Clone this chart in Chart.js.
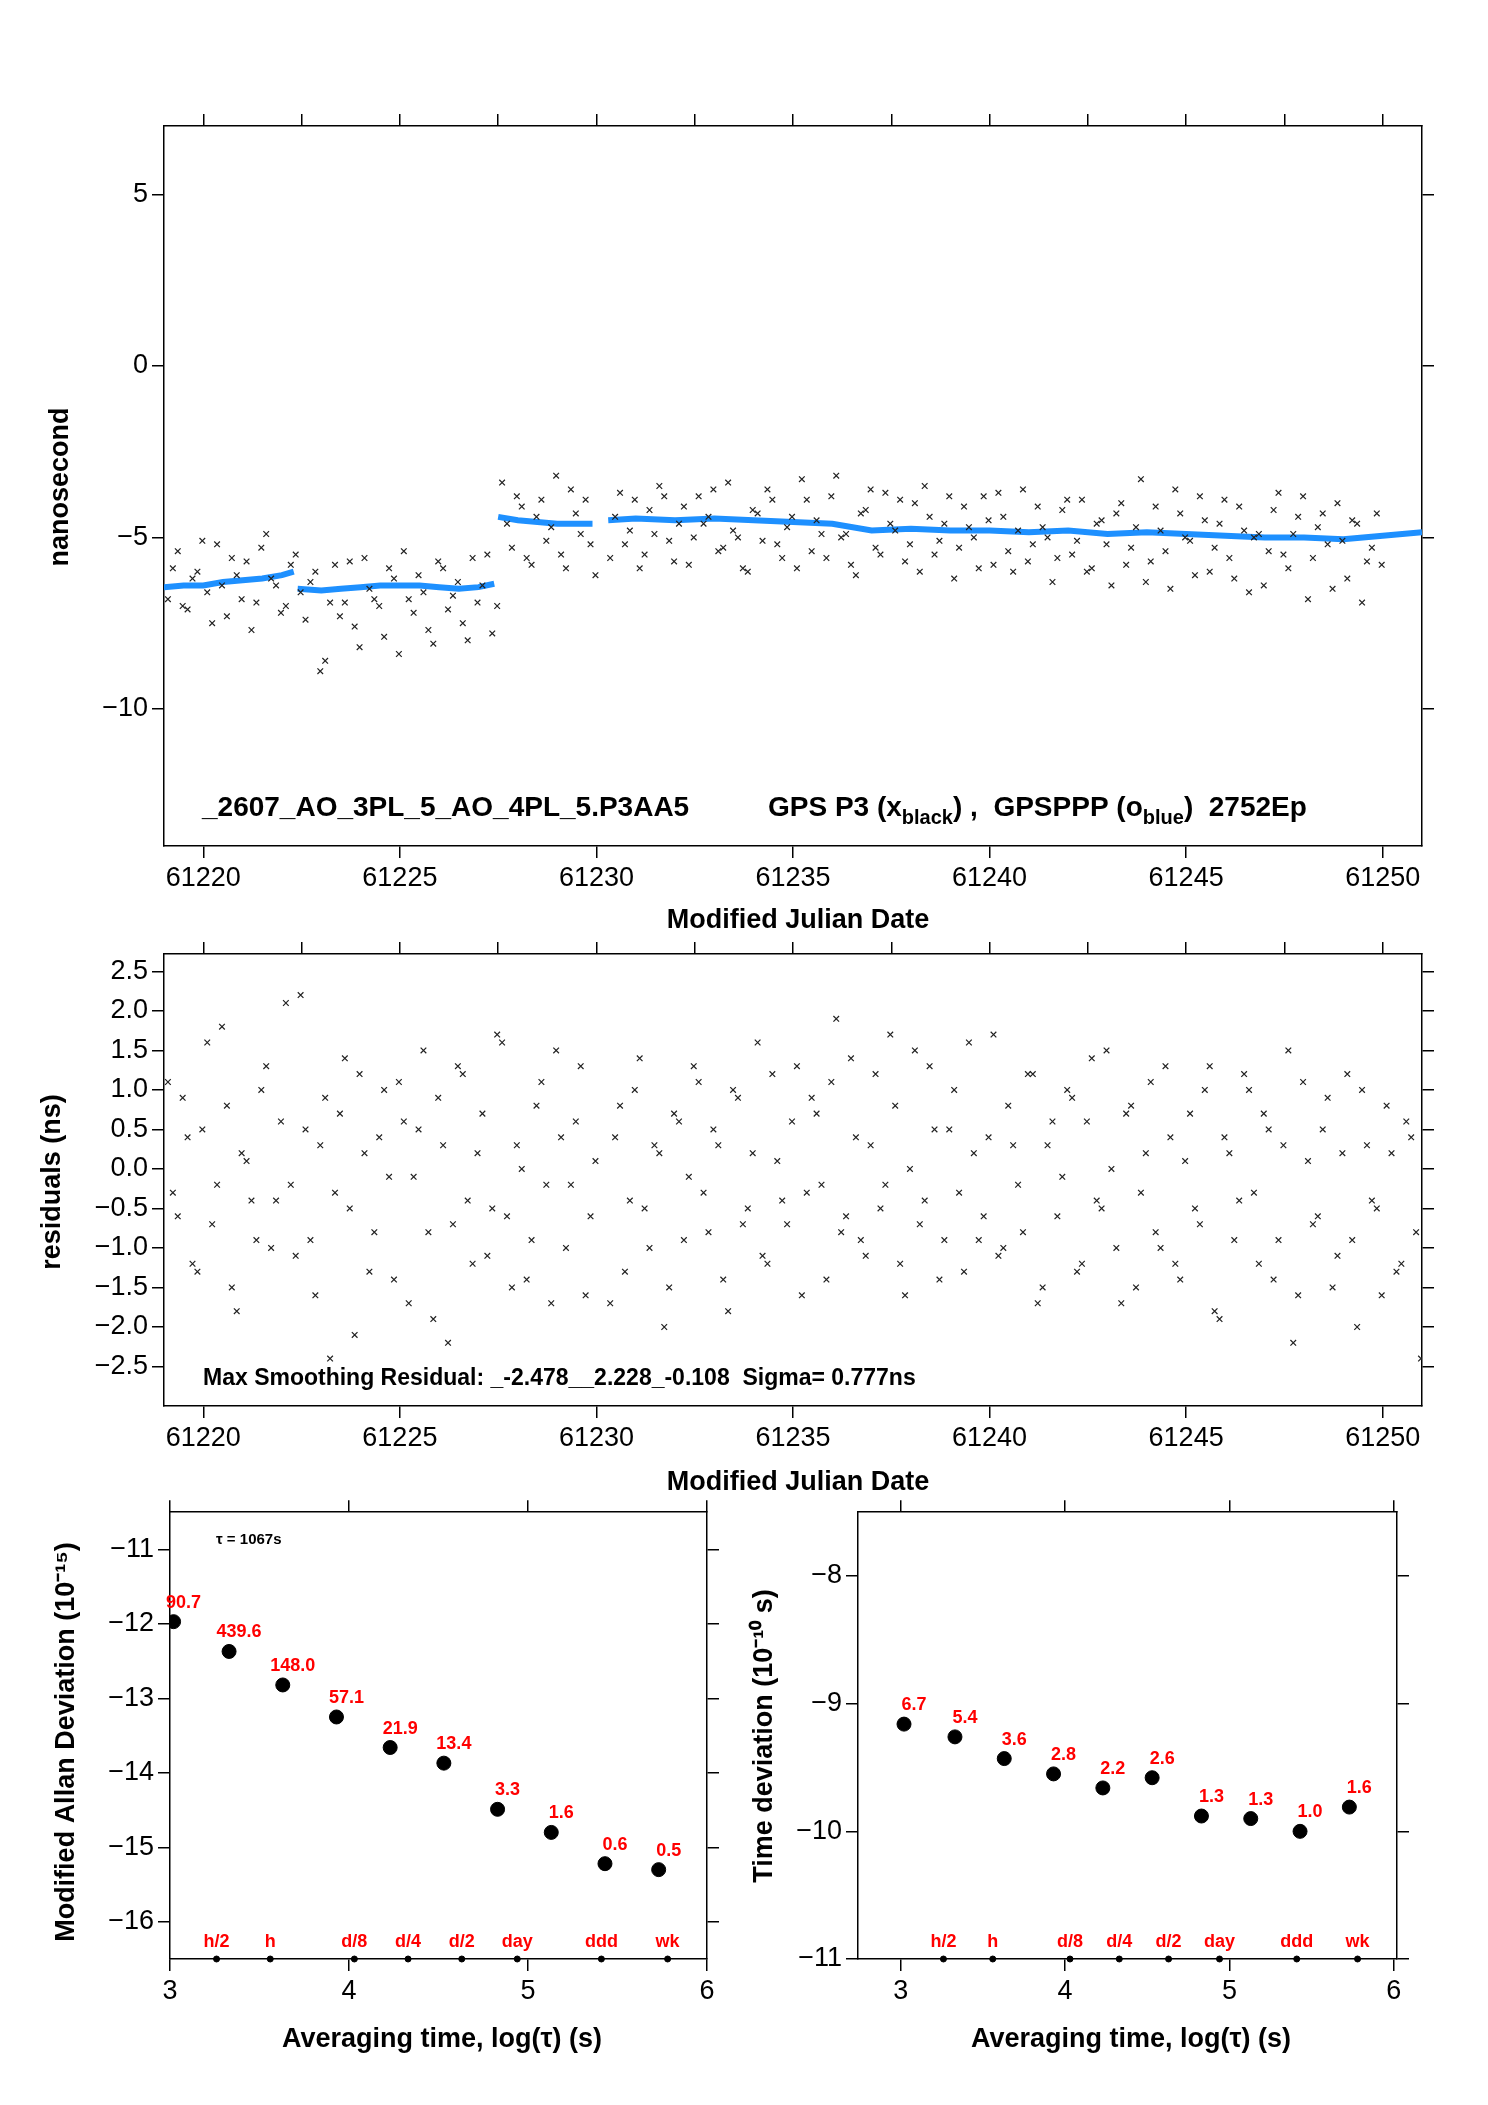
<!DOCTYPE html>
<html>
<head>
<meta charset="utf-8">
<script src="https://cdn.jsdelivr.net/npm/chart.js@4"></script>
<style>
body{margin:0;background:#fff;width:1488px;height:2105px;position:relative;overflow:hidden}
canvas{position:absolute}
</style>
</head>
<body>
<canvas id="top" style="left:0;top:0"></canvas>
<canvas id="res" style="left:0;top:930px"></canvas>
<canvas id="adev" style="left:0;top:1492px"></canvas>
<canvas id="tdev" style="left:740px;top:1492px"></canvas>
<script>
// ---- data ----
const scatStart = 61219.1, scatStep = 0.25;
const p3Vals = [-6.8,-5.4,-7.1,-6.0,-6.6,-5.2,-7.3,-6.1,-5.7,-6.9,-4.9,-6.4,-7.0,-5.5,
  -7.4,-6.0,-8.6,-5.8,-6.9,-7.6,-5.6,-6.8,-7.9,-6.2,-5.4,-7.2,-6.6,-8.1,-5.9,-6.7,-7.5,-5.6,-6.4,-7.8,
  -3.4,-5.3,-4.1,-5.8,-3.9,-4.7,-5.5,-3.6,-4.9,-5.2, null,
  -5.6,-3.7,-4.8,-5.9,-4.2,-3.5,-5.1,-4.6,-5.8,-3.8,-4.4,-5.4,-3.4,-5.0,-6.0,-4.3,-3.6,-5.2,-4.7,-5.9,
  -3.9,-4.5,-5.6,-3.2,-4.9,-6.1,-4.2,-5.3,-3.7,-4.8,-5.7,-4.0,-3.5,-5.5,-4.6,-6.2,-4.1,-5.0,-3.8,-5.8,
  -4.4,-6.0,-3.6,-5.2,-4.7,-6.3,-4.2,-5.5,-3.9,-5.9,-4.5,-6.4,-4.0,-5.3,-3.3,-5.7,-4.8,-6.5,-4.3,-5.1,
  -3.8,-6.0,-4.6,-5.6,-4.1,-6.6,-4.9,-5.4,-3.7,-5.9,-4.4,-6.8,-4.7,-5.2,-4.0,-6.2,-4.6,-5.7,-4.3];
const p3Vals2 = [-5.9,-7.0,-6.2,-5.1,-7.5,-6.4,-5.6,-6.8,-7.7,-5.3,-6.2,-7.2,-5.8,-6.6,
  -6.3,-8.9,-6.9,-7.3,-5.7,-8.2,-6.5,-7.0,-5.9,-8.4,-6.8,-6.1,-7.7,-5.7,-7.1,-6.3,-8.0,-6.9,-5.5,-7.0,
  -4.6,-3.8,-5.6,-4.4,-5.1,-3.2,-5.9,-4.3,-3.9,-6.1, null,
  -4.4,-5.2,-3.9,-5.5,-4.9,-3.8,-5.7,-4.1,-5.0,-4.6,-3.6,-5.3,-4.8,-5.9,-4.2,-5.1,-3.9,-5.6,-4.4,-3.3,
  -5.4,-4.9,-3.8,-5.0,-5.8,-4.3,-3.6,-5.5,-4.6,-3.9,-5.2,-6.0,-4.4,-5.1,-3.8,-5.3,-4.7,-5.9,-4.5,-3.7,
  -5.4,-4.8,-5.7,-4.1,-5.0,-5.6,-3.9,-5.1,-6.0,-4.6,-5.2,-4.3,-5.8,-4.7,-6.3,-4.1,-5.4,-3.6,-5.0,-6.1,
  -4.5,-5.3,-3.9,-6.2,-4.8,-5.0,-6.4,-4.2,-5.5,-4.9,-3.8,-5.6,-4.3,-6.5,-5.1,-4.5,-6.9,-5.3,-5.8];
const resVals = [1.1,-0.6,0.4,-1.3,1.6,-0.2,0.8,-1.8,0.1,-0.9,1.3,-0.4,2.1,-1.1,0.5,-1.6,0.9,-0.3,1.4,-2.1,
  0.2,-0.8,1.0,-1.4,0.6,-0.1,1.5,-1.9,0.3,-0.7,1.2,-1.2,0.7,-0.5,1.6,-1.5,0.0,-0.9,1.1,-1.7,0.4,-0.2,1.3,-0.6, null,
  -1.7,0.8,-0.4,1.4,-1.0,0.2,-1.5,0.6,-0.1,1.1,-0.8,0.3,-1.8,0.9,-0.5,1.6,-1.2,0.1,-0.7,1.3,-0.3,0.7,-1.4,1.9,
  -0.6,0.4,-1.1,1.2,-0.2,0.8,-1.6,1.5,-0.4,0.5,-0.9,1.0,-1.3,0.2,-0.6,1.7,-1.0,0.3,-0.8,1.2,-1.5,0.6,-0.1,0.9,
  -1.2,1.4,-0.5,0.0,-1.7,0.8,-0.3,1.1,-1.0,0.4,-1.4,0.7,-0.7,1.3,-1.9,0.2,-0.4,1.0,-1.2,0.5,-0.9,1.5,-1.6,0.1,
  -0.6,0.9,-1.1,1.2,-2.0,0.3,-0.5,0.8,-1.3,0.6,-0.8];
const resVals2 = [-0.3,0.9,-1.2,0.5,-0.7,1.8,-1.5,0.2,-0.4,1.0,-1.0,0.6,-0.2,2.2,-0.9,0.3,-2.4,0.7,-0.5,1.2,
  -1.3,0.4,-0.1,1.1,-1.7,0.5,-0.8,0.9,-2.2,1.3,-0.4,0.2,-1.1,1.7,-0.6,0.3,-1.4,0.8,-0.2,1.5,-1.0,0.6,-1.6,0.1, null,
  0.4,-1.3,1.0,-0.5,0.3,-2.0,0.7,-0.9,1.3,-0.3,0.5,-1.4,1.0,-0.7,0.2,-1.1,1.2,-0.4,0.6,-1.6,0.9,-0.2,1.1,-0.8,
  1.4,-0.9,0.3,-0.5,1.7,-1.2,0.0,-0.7,1.3,-1.4,0.5,-0.3,1.6,-0.9,0.4,-1.1,0.8,-0.2,1.2,-1.7,0.3,-0.6,1.0,-1.3,
  0.6,-0.4,1.5,-1.0,0.7,-1.5,0.2,-0.8,1.3,-1.2,0.1,-0.5,1.0,-1.8,0.4,-0.9,1.2,-0.3,0.7,-1.4,0.3,-2.2,1.1,-0.7,
  0.5,-1.5,0.2,-0.9,1.0,-0.4,-1.6,0.2,-1.2,0.4,-2.4];
const pppX = [61219,61219.5,61220,61220.5,61221,61221.5,61222,61222.3,61222.35,61222.4,61223,61223.5,61224,61224.5,61225,61225.5,61226,61226.5,61227,61227.4,61227.45,
  61227.5,61228,61228.5,61229,61229.9,61230.1,61230.3,61231,61232,61233,61234,61235,61236,61237,61238,61239,61240,61241,61242,61243,61244,61245,61246,61247,61248,61249,61250,61251];
const pppY = [-6.45,-6.4,-6.4,-6.3,-6.25,-6.2,-6.1,-6.0,null,-6.5,-6.55,-6.5,-6.45,-6.4,-6.4,-6.4,-6.45,-6.5,-6.45,-6.35,null,
  -4.4,-4.5,-4.55,-4.6,-4.6,null,-4.5,-4.45,-4.5,-4.45,-4.5,-4.55,-4.6,-4.8,-4.75,-4.8,-4.8,-4.85,-4.8,-4.9,-4.85,-4.9,-4.95,-5.0,-5.0,-5.05,-4.95,-4.85];
const logTau = [3.02,3.33,3.63,3.93,4.23,4.53,4.83,5.13,5.43,5.73];
const adevY = [-11.97,-12.37,-12.82,-13.25,-13.66,-13.87,-14.49,-14.80,-15.22,-15.30];
const adevLbl = ['90.7','439.6','148.0','57.1','21.9','13.4','3.3','1.6','0.6','0.5'];
const tdevY = [-9.16,-9.26,-9.43,-9.55,-9.66,-9.58,-9.88,-9.90,-10.00,-9.81];
const tdevLbl = ['6.7','5.4','3.6','2.8','2.2','2.6','1.3','1.3','1.0','1.6'];
const markX = [3.26,3.56,4.03,4.33,4.63,4.94,5.41,5.78];
const markLbl = ['h/2','h','d/8','d/4','d/2','day','ddd','wk'];

const F = '"Liberation Sans", Arial, sans-serif';
const minus = v => String(v).replace('-', '\u2212');

function pts(vals, off){ return vals.map((v,i)=>({x: scatStart + (off||0) + i*scatStep, y: v})).filter(p=>p.y!==null); }

function axes(c){
  const fit = (w,h) => s => { if (w!=null) s.width = w; if (h!=null) s.height = h; };
  const g = {display:true, drawOnChartArea:false, drawTicks:true, tickLength:12, color:'#000', lineWidth:1.5};
  const b = {display:true, color:'#000', width:1.5};
  const tk = {color:'#000', font:{family:F, size:27}, padding:4};
  return {
    x: {type:'linear', min:c.xmin, max:c.xmax, grid:g, border:b, afterFit:fit(null,c.bottom),
        afterBuildTicks:s=>{s.ticks=c.xticks.map(v=>({value:v}));},
        ticks:Object.assign({}, tk, {callback:v=>minus(v)})},
    x2: {type:'linear', position:'top', min:c.xmin, max:c.xmax, grid:g, border:b, afterFit:fit(null,c.top),
        afterBuildTicks:s=>{s.ticks=c.xminor.map(v=>({value:v}));}, ticks:{display:false}},
    y: {type:'linear', min:c.ymin, max:c.ymax, grid:g, border:b, afterFit:fit(c.left,null),
        afterBuildTicks:s=>{s.ticks=c.yticks.map(v=>({value:v}));},
        ticks:Object.assign({}, tk, {callback:v=>c.yfmt ? c.yfmt(v) : minus(v)})},
    y2: {type:'linear', position:'right', min:c.ymin, max:c.ymax, grid:g, border:b, afterFit:fit(c.right,null),
        afterBuildTicks:s=>{s.ticks=c.yticks.map(v=>({value:v}));}, ticks:{display:false}}
  };
}

function text(ctx, s, x, y, size, opt){
  opt = opt || {};
  ctx.save();
  ctx.font = (opt.bold===false?'':'bold ') + size + 'px ' + F;
  ctx.fillStyle = opt.color || '#000';
  ctx.textAlign = opt.align || 'left';
  ctx.textBaseline = opt.base || 'alphabetic';
  ctx.translate(x, y);
  if (opt.rot) ctx.rotate(opt.rot);
  ctx.fillText(s, 0, 0);
  const w = ctx.measureText(s).width;
  ctx.restore();
  return w;
}

function make(id, w, h, datasets, c, draw){
  const cv = document.getElementById(id);
  cv.width = w; cv.height = h; cv.style.width = w+'px'; cv.style.height = h+'px';
  new Chart(cv, {
    type:'scatter',
    data:{datasets:datasets},
    options:{responsive:false, devicePixelRatio:1, animation:false, layout:{padding:0},
      plugins:{legend:{display:false}, tooltip:{enabled:false}},
      scales:axes(c)},
    plugins:[{id:'notes', afterDraw:ch=>draw(ch.ctx, ch)}]
  });
}

const cross = {pointStyle:'crossRot', pointRadius:4, borderColor:'#222', borderWidth:1.2, showLine:false};
const mjdTicks = [61220,61225,61230,61235,61240,61245,61250];
const mjdMinor = [61220,61222.5,61225,61227.5,61230,61232.5,61235,61237.5,61240,61242.5,61245,61247.5,61250];

// top panel
make('top', 1488, 961, [
  Object.assign({data:pts(p3Vals)}, cross),
  Object.assign({data:pts(p3Vals2, 0.125)}, cross),
  {data:pppX.map((x,i)=>({x:x, y:pppY[i]})), showLine:true, spanGaps:false, borderColor:'#1e90ff', borderWidth:6, pointRadius:0}
], {xmin:61219, xmax:61251, ymin:-14, ymax:7, xticks:mjdTicks, xminor:mjdMinor, yticks:[-10,-5,0,5],
    left:164, right:66, top:126, bottom:115}, (ctx)=>{
  text(ctx, 'nanosecond', 68, 487, 27, {rot:-Math.PI/2, align:'center'});
  text(ctx, 'Modified Julian Date', 798, 928, 27, {align:'center'});
  const y = 816;
  text(ctx, '_2607_AO_3PL_5_AO_4PL_5.P3AA5', 202, y, 28);
  let x = 768;
  x += text(ctx, 'GPS P3 (x', x, y, 28);
  x += text(ctx, 'black', x, y+8, 20);
  x += text(ctx, ') ,  GPSPPP (o', x, y, 28);
  x += text(ctx, 'blue', x, y+8, 20);
  text(ctx, ')  2752Ep', x, y, 28);
});

// residual panel
make('res', 1488, 595, [Object.assign({data:pts(resVals)}, cross), Object.assign({data:pts(resVals2, 0.125)}, cross)],
  {xmin:61219, xmax:61251, ymin:-3.0, ymax:2.72, xticks:mjdTicks, xminor:mjdMinor,
   yticks:[-2.5,-2,-1.5,-1,-0.5,0,0.5,1,1.5,2,2.5], yfmt:v=>minus(v.toFixed(1)),
   left:164, right:66, top:24, bottom:119}, (ctx)=>{
  text(ctx, 'residuals (ns)', 60, 252, 27, {rot:-Math.PI/2, align:'center'});
  text(ctx, 'Modified Julian Date', 798, 560, 27, {align:'center'});
  text(ctx, 'Max Smoothing Residual: _-2.478__2.228_-0.108  Sigma= 0.777ns', 203, 455, 23);
});

function devDraw(vals, ymin){
  return [
    {data:logTau.map((x,i)=>({x:x, y:vals[i]})), pointRadius:7, backgroundColor:'#000', borderColor:'#000', showLine:false},
    {data:markX.map(x=>({x:x, y:ymin})), pointRadius:3, backgroundColor:'#000', borderColor:'#000', showLine:false, clip:false}
  ];
}
function devNotes(lbls){
  return (ctx, ch)=>{
    const m = ch.getDatasetMeta(0).data, k = ch.getDatasetMeta(1).data;
    m.forEach((p,i)=>text(ctx, lbls[i], p.x+10, p.y-14, 18, {color:'#ff0000', align:'center'}));
    k.forEach((p,i)=>text(ctx, markLbl[i], p.x, p.y-12, 18, {color:'#ff0000', align:'center'}));
  };
}

// modified Allan deviation
make('adev', 740, 590, devDraw(adevY, -16.5),
  {xmin:3, xmax:6, ymin:-16.5, ymax:-10.5, xticks:[3,4,5,6], xminor:[3,4,5,6], yticks:[-16,-15,-14,-13,-12,-11],
   left:170, right:33, top:14, bottom:123}, (ctx, ch)=>{
  devNotes(adevLbl)(ctx, ch);
  text(ctx, 'Modified Allan Deviation (10\u207B\u00B9\u2075)', 74, 250, 27, {rot:-Math.PI/2, align:'center'});
  text(ctx, 'Averaging time, log(\u03C4) (s)', 442, 555, 27, {align:'center'});
  text(ctx, '\u03C4 = 1067s', 216, 52, 15);
});

// time deviation
make('tdev', 697, 590, devDraw(tdevY, -11),
  {xmin:2.74, xmax:6.02, ymin:-11, ymax:-7.5, xticks:[3,4,5,6], xminor:[3,4,5,6], yticks:[-11,-10,-9,-8],
   left:118, right:40, top:14, bottom:123}, (ctx, ch)=>{
  devNotes(tdevLbl)(ctx, ch);
  text(ctx, 'Time deviation (10\u207B\u00B9\u2070 s)', 32, 244, 27, {rot:-Math.PI/2, align:'center'});
  text(ctx, 'Averaging time, log(\u03C4) (s)', 391, 555, 27, {align:'center'});
});
</script>
</body>
</html>
